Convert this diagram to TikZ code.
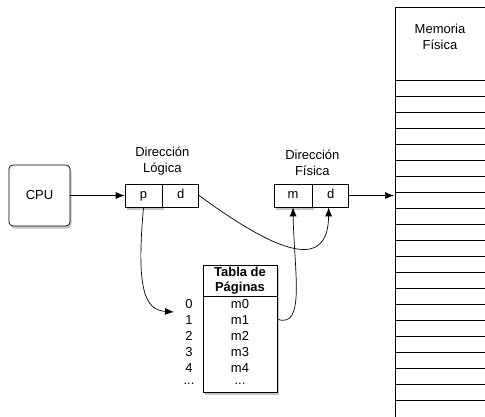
\documentclass[tikz,border=0pt]{standalone}
\usepackage{fontspec}
\setmainfont{Liberation Sans}
\usetikzlibrary{arrows.meta,positioning,calc,shadows}

\begin{document}
\begin{tikzpicture}[
        x=1pt, y=-1pt,
        font=\fontsize{13}{16}\selectfont,
        shadowed/.style={drop shadow={opacity=0.45, shadow xshift=1.5pt, shadow yshift=-2.5pt}},
        cell/.style={draw, fill=white, minimum height=23pt, inner sep=0pt, line width=0.7pt,
          text height=9pt, text depth=2.5pt},
        lbl/.style={align=center, inner sep=0pt},
        tabrow/.style={minimum height=16pt, inner sep=0pt},
        arrow/.style={-{Latex[length=9pt, width=7pt]}, line width=0.7pt}
      ]
        \useasboundingbox (0,0) rectangle (485,416);
        % memoria fisica
        \node[draw, fill=white, shadowed, line width=0.7pt, anchor=north west,
          minimum width=110pt, minimum height=430pt] (mem) at (395,7) {};
        \node[lbl] (memlbl) at (440,37) {Memoria\\Física};
        \foreach \i in {0,...,20}
          \draw[line width=0.7pt] (395,80+16*\i) -- (485,80+16*\i);
        % cpu
        \node[draw, fill=white, shadowed, rounded corners=4pt, line width=0.7pt,
          minimum width=61pt, minimum height=61pt] (cpu) at (39.5,195.5) {CPU};
        % direccion logica
        \node[cell, shadowed, minimum width=37pt] (lp) at (143.5,195.5) {p};
        \node[cell, minimum width=36pt, right=0pt of lp] (ld) {d};
        \node[lbl, above=8pt of lp.north east] (llbl) {Dirección\\Lógica};
        % direccion fisica
        \node[cell, shadowed, minimum width=38pt] (fm) at (293,195.5) {m};
        \node[cell, minimum width=36pt, right=0pt of fm] (fd) {d};
        \node[lbl, above=8pt of fm.north east] (flbl) {Dirección\\Física};
        % tabla de paginas
        \node[draw, fill=white, shadowed, line width=0.7pt, minimum width=74pt,
          minimum height=127pt, anchor=north] (tab) at (240,265) {};
        \node[lbl, font=\fontsize{13}{15}\selectfont\bfseries, anchor=north]
          (tabhead) at (240,267) {Tabla de\\Páginas};
        \draw[line width=0.7pt] ($(tab.north west)+(0,31)$) -- ($(tab.north east)+(0,31)$);
        \foreach \k in {0,...,4} {
          \node[tabrow] (r\k) at (240,304+16*\k) {m\k};
          \node[tabrow] (i\k) at (189,304+16*\k) {\k};
        }
        \node[tabrow] (r5) at (240,384) {...};
        \node[tabrow] (i5) at (189,384) {...};
        \coordinate (pin) at (174,312);
        \coordinate (m1out) at (277,319);
        \coordinate (fdin) at ($(fd.south)+(-2,0)$);
        \coordinate (memin) at (394,195.5);
        % conexiones
        \draw[arrow] (cpu) -- (lp);
        \draw[arrow] (fd.east) -- (memin);
        \draw[arrow] (lp.south) .. controls (136,290) and (145,310) .. (pin);
        \draw[arrow] (ld.east) .. controls (290,262) and (328,265) .. (fdin);
        \draw[arrow] (m1out) .. controls (306,330) and (294,270) .. (fm.south);
      \end{tikzpicture}
\end{document}
